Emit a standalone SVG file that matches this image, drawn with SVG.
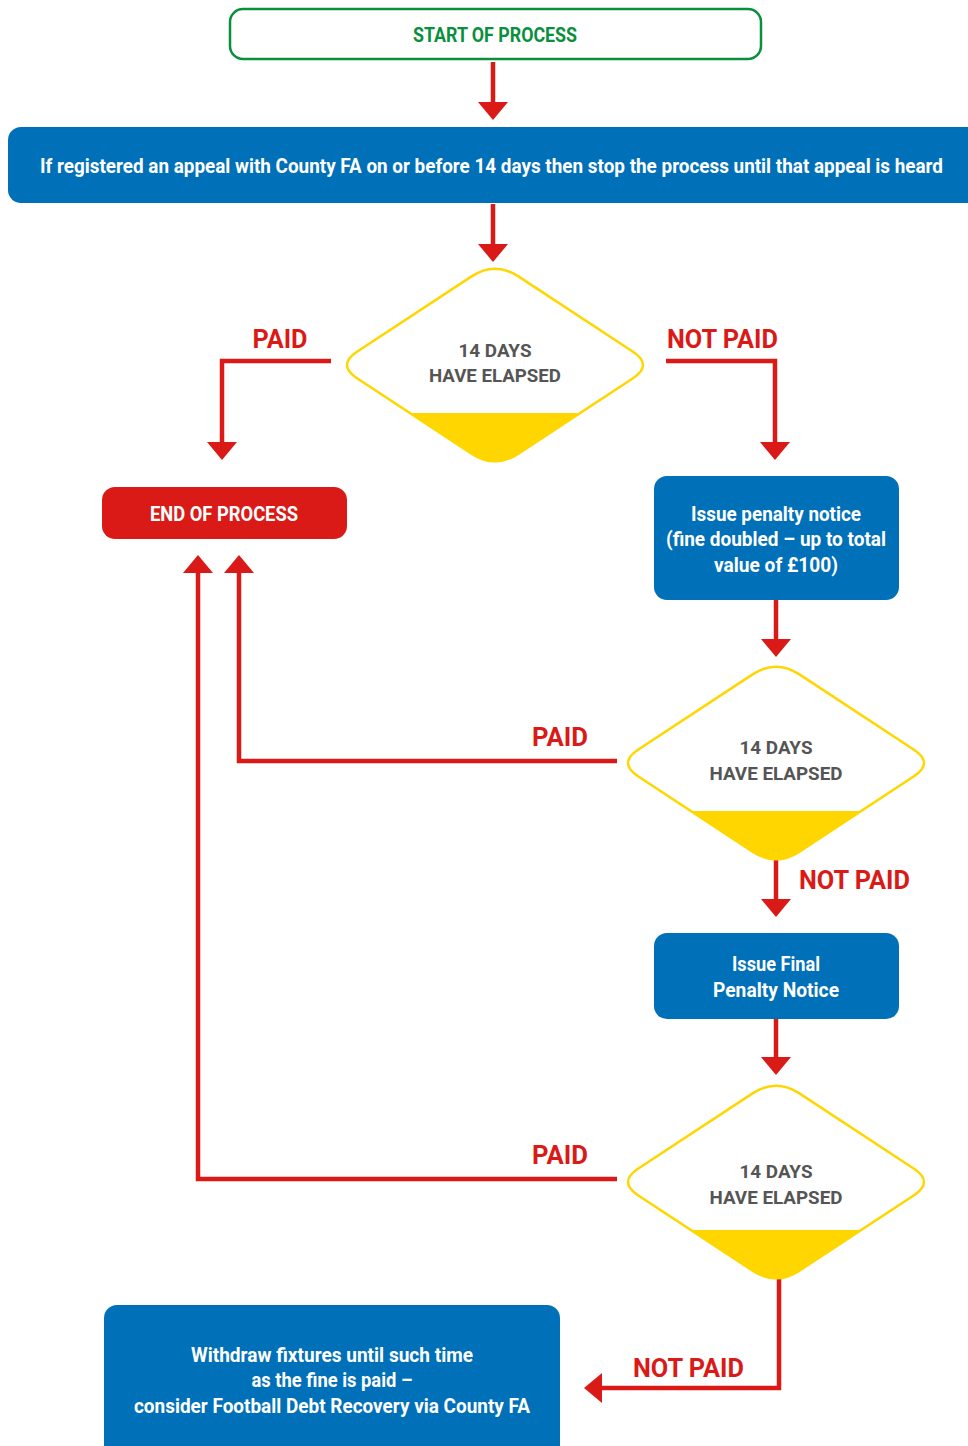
<svg xmlns="http://www.w3.org/2000/svg" xmlns:xlink="http://www.w3.org/1999/xlink" width="968" height="1446" viewBox="0 0 968 1446">
<style>
.t{font-family:Roboto,"Liberation Sans",sans-serif;font-weight:700;text-anchor:middle}
.w{fill:#ffffff;font-size:20px}
.g{fill:#555555;font-size:18.5px}
.r{fill:#da1a17;font-size:26px}
.blue{fill:#0070b9}
.conn{fill:none;stroke:#da1a17;stroke-width:4.5;stroke-linejoin:miter}
.dout{fill:none;stroke:#ffd600;stroke-width:2.5}
.dfill{fill:#ffd600}
</style>
<defs>
<marker id="ah" viewBox="0 0 18 30" refX="0" refY="15" markerWidth="18" markerHeight="30" markerUnits="userSpaceOnUse" orient="auto">
<path d="M0,0 L18,15 L0,30 Z" fill="#da1a17"/>
</marker>
<path id="dia" d="M -23.4,-88.6 Q 0,-104 23.4,-88.6 L 138,-13.2 Q 158,0 138,13.2 L 23.4,88.6 Q 0,104 -23.4,88.6 L -138,13.2 Q -158,0 -138,-13.2 Z"/>
<clipPath id="low"><rect x="-170" y="48" width="340" height="70"/></clipPath>
</defs>

<g id="connectors">
<path class="conn" d="M493,62 V102" marker-end="url(#ah)"/>
<path class="conn" d="M493,204 V244" marker-end="url(#ah)"/>
<path class="conn" d="M331,361 H222 V442" marker-end="url(#ah)"/>
<path class="conn" d="M666,361 H775 V442" marker-end="url(#ah)"/>
<path class="conn" d="M776,600 V639" marker-end="url(#ah)"/>
<path class="conn" d="M617,761 H239 V573" marker-end="url(#ah)"/>
<path class="conn" d="M776,859 V899" marker-end="url(#ah)"/>
<path class="conn" d="M776,1019 V1057" marker-end="url(#ah)"/>
<path class="conn" d="M617,1179 H198 V573" marker-end="url(#ah)"/>
<path class="conn" d="M779,1278 V1388 H602" marker-end="url(#ah)"/>
<text class="t r" x="280" y="348" textLength="55" lengthAdjust="spacingAndGlyphs">PAID</text>
<text class="t r" x="722.5" y="348" textLength="111" lengthAdjust="spacingAndGlyphs">NOT PAID</text>
<text class="t r" x="560" y="746" textLength="56" lengthAdjust="spacingAndGlyphs">PAID</text>
<text class="t r" x="854.5" y="889" textLength="111" lengthAdjust="spacingAndGlyphs">NOT PAID</text>
<text class="t r" x="560" y="1164" textLength="56" lengthAdjust="spacingAndGlyphs">PAID</text>
<text class="t r" x="688.5" y="1377" textLength="111" lengthAdjust="spacingAndGlyphs">NOT PAID</text>
</g>

<g id="start">
<rect x="230" y="9" width="531" height="50" rx="13" fill="#ffffff" stroke="#0a8f3c" stroke-width="2.5"/>
<text class="t" x="495" y="42" font-size="20" fill="#0a8f3c" textLength="164" lengthAdjust="spacingAndGlyphs">START OF PROCESS</text>
</g>

<g id="appeal">
<path class="blue" d="M21,127 H968 V203 H21 A13,13 0 0 1 8,190 V140 A13,13 0 0 1 21,127 Z"/>
<text class="t w" x="491.5" y="173" textLength="903" lengthAdjust="spacingAndGlyphs">If registered an appeal with County FA on or before 14 days then stop the process until that appeal is heard</text>
</g>

<g id="decision1" transform="translate(495,365)">
<use xlink:href="#dia" fill="#ffffff"/>
<use xlink:href="#dia" class="dfill" clip-path="url(#low)"/>
<use xlink:href="#dia" class="dout"/>
<text class="t g" x="0" y="-8" textLength="73" lengthAdjust="spacingAndGlyphs">14 DAYS</text>
<text class="t g" x="0" y="17" textLength="132" lengthAdjust="spacingAndGlyphs">HAVE ELAPSED</text>
</g>

<g id="end">
<rect x="102" y="487" width="245" height="52" rx="13" fill="#da1a17"/>
<text class="t w" x="224" y="521" textLength="148" lengthAdjust="spacingAndGlyphs">END OF PROCESS</text>
</g>

<g id="penalty">
<rect class="blue" x="654" y="476" width="245" height="124" rx="13"/>
<text class="t w" x="776" y="521" textLength="170" lengthAdjust="spacingAndGlyphs">Issue penalty notice</text>
<text class="t w" x="776" y="546" textLength="220" lengthAdjust="spacingAndGlyphs">(fine doubled – up to total</text>
<text class="t w" x="776" y="572" textLength="124" lengthAdjust="spacingAndGlyphs">value of £100)</text>
</g>

<g id="decision2" transform="translate(776,763)">
<use xlink:href="#dia" fill="#ffffff"/>
<use xlink:href="#dia" class="dfill" clip-path="url(#low)"/>
<use xlink:href="#dia" class="dout"/>
<text class="t g" x="0" y="-9" textLength="73" lengthAdjust="spacingAndGlyphs">14 DAYS</text>
<text class="t g" x="0" y="17" textLength="133" lengthAdjust="spacingAndGlyphs">HAVE ELAPSED</text>
</g>

<g id="final">
<rect class="blue" x="654" y="933" width="245" height="86" rx="13"/>
<text class="t w" x="776" y="971" textLength="88" lengthAdjust="spacingAndGlyphs">Issue Final</text>
<text class="t w" x="776" y="997" textLength="126" lengthAdjust="spacingAndGlyphs">Penalty Notice</text>
</g>

<g id="decision3" transform="translate(776,1182)">
<use xlink:href="#dia" fill="#ffffff"/>
<use xlink:href="#dia" class="dfill" clip-path="url(#low)"/>
<use xlink:href="#dia" class="dout"/>
<text class="t g" x="0" y="-4" textLength="73" lengthAdjust="spacingAndGlyphs">14 DAYS</text>
<text class="t g" x="0" y="22" textLength="133" lengthAdjust="spacingAndGlyphs">HAVE ELAPSED</text>
</g>

<g id="withdraw">
<path class="blue" d="M117,1305 H547 A13,13 0 0 1 560,1318 V1446 H104 V1318 A13,13 0 0 1 117,1305 Z"/>
<text class="t w" x="332" y="1362" textLength="282" lengthAdjust="spacingAndGlyphs">Withdraw fixtures until such time</text>
<text class="t w" x="332" y="1387" textLength="161" lengthAdjust="spacingAndGlyphs">as the fine is paid –</text>
<text class="t w" x="332" y="1413" textLength="396" lengthAdjust="spacingAndGlyphs">consider Football Debt Recovery via County FA</text>
</g>
</svg>
